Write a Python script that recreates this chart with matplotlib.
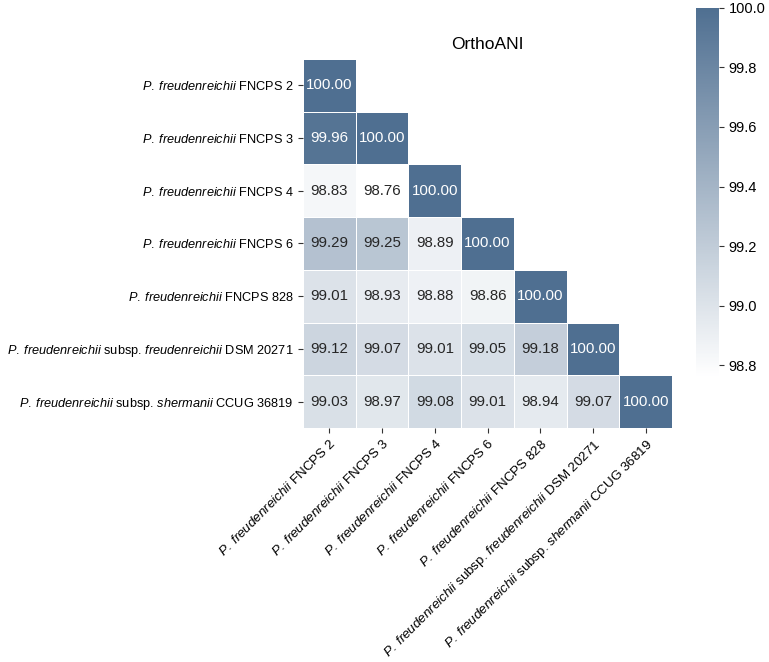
import numpy as np
import matplotlib
matplotlib.use("Agg")
import matplotlib.pyplot as plt
from matplotlib.colors import LinearSegmentedColormap

plt.rcParams['font.family'] = ['Liberation Sans', 'DejaVu Sans']
plt.rcParams['mathtext.fontset'] = 'custom'
plt.rcParams['mathtext.rm'] = 'Liberation Sans'
plt.rcParams['mathtext.it'] = 'Liberation Sans:italic'

strains = [
    r"$\it{P.\:freudenreichii}$ FNCPS 2",
    r"$\it{P.\:freudenreichii}$ FNCPS 3",
    r"$\it{P.\:freudenreichii}$ FNCPS 4",
    r"$\it{P.\:freudenreichii}$ FNCPS 6",
    r"$\it{P.\:freudenreichii}$ FNCPS 828",
    r"$\it{P.\:freudenreichii}$ subsp. $\it{freudenreichii}$ DSM 20271",
    r"$\it{P.\:freudenreichii}$ subsp. $\it{shermanii}$ CCUG 36819",
]

row_fncps2 = [100.00]
row_fncps3 = [99.96, 100.00]
row_fncps4 = [98.83, 98.76, 100.00]
row_fncps6 = [99.29, 99.25, 98.89, 100.00]
row_fncps828 = [99.01, 98.93, 98.88, 98.86, 100.00]
row_dsm20271 = [99.12, 99.07, 99.01, 99.05, 99.18, 100.00]
row_ccug36819 = [99.03, 98.97, 99.08, 99.01, 98.94, 99.07, 100.00]

rows = [row_fncps2, row_fncps3, row_fncps4, row_fncps6,
        row_fncps828, row_dsm20271, row_ccug36819]
n = len(strains)
mat = np.full((n, n), np.nan)
for i, r in enumerate(rows):
    mat[i, :len(r)] = r
masked = np.ma.masked_invalid(mat)

vmin = np.nanmin(mat)
vmax = np.nanmax(mat)
cmap = LinearSegmentedColormap.from_list("ani", ["#ffffff", "#4f6f91"])

fig = plt.figure(figsize=(7.69, 6.62), dpi=100)
ax = fig.add_axes([0.394, 0.3535, 0.480, 0.5575])
cax = fig.add_axes([0.905, 0.4305, 0.030, 0.5575])

mesh = ax.pcolormesh(np.arange(n + 1), np.arange(n + 1), masked, cmap=cmap,
                     vmin=vmin, vmax=vmax, edgecolors='white', linewidth=0.7)
ax.set_xlim(0, n)
ax.set_ylim(n, 0)
for s in ax.spines.values():
    s.set_visible(False)

norm = mesh.norm
for i in range(n):
    for j in range(n):
        v = mat[i, j]
        if np.isnan(v):
            continue
        rgba = cmap(norm(v))
        lum = 0.2126 * rgba[0] + 0.7152 * rgba[1] + 0.0722 * rgba[2]
        col = 'white' if lum < 0.45 else '#262626'
        ax.text(j + 0.5, i + 0.5, f"{v:.2f}", ha='center', va='center',
                fontsize=10.8, color=col)

ax.set_xticks(np.arange(n) + 0.5)
ax.set_yticks(np.arange(n) + 0.5)
ax.set_xticklabels(strains, rotation=45, ha='right', rotation_mode='anchor',
                   fontsize=9.6)
ax.set_yticklabels(strains, fontsize=9.2)
ax.tick_params(length=3.5, width=0.8, color='#333333', pad=3)
ax.set_title("OrthoANI", fontsize=12.5, pad=7)

cb = fig.colorbar(mesh, cax=cax)
cb.outline.set_visible(False)
cb.set_ticks([98.8, 99.0, 99.2, 99.4, 99.6, 99.8, 100.0])
cb.ax.set_yticklabels(["98.8", "99.0", "99.2", "99.4", "99.6", "99.8", "100.0"])
cb.ax.tick_params(labelsize=10.5, length=3.5, width=0.8, color='#333333')

fig.savefig("out.png", dpi=100)
